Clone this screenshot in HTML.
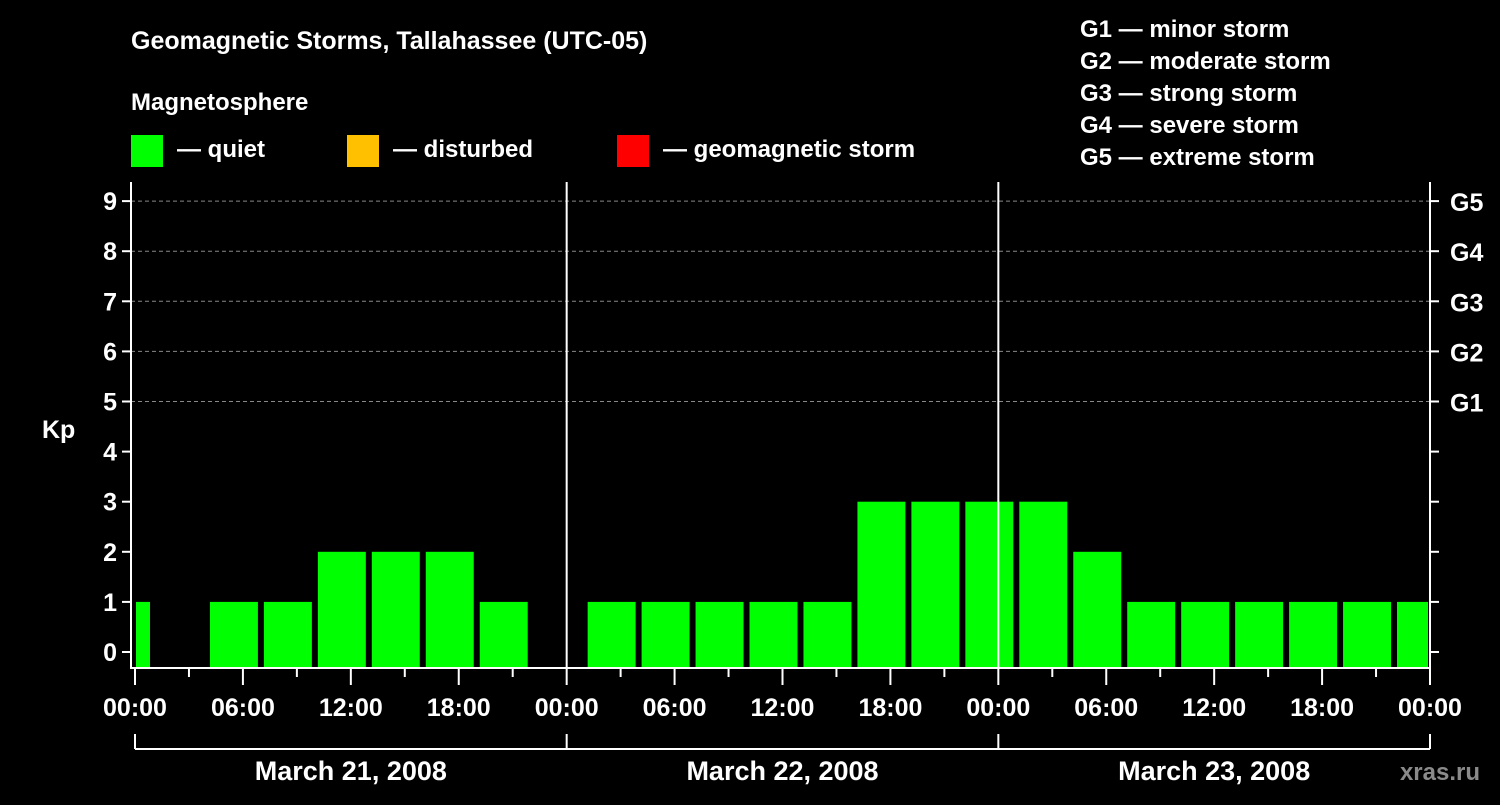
<!DOCTYPE html>
<html><head><meta charset="utf-8"><style>
body{margin:0;background:#000;width:1500px;height:800px;overflow:hidden;font-family:"Liberation Sans",sans-serif;font-weight:bold;color:#fff}
svg text{font-family:"Liberation Sans",sans-serif;font-weight:bold;fill:#fff}
</style></head><body>
<svg id="chart" width="1500" height="800" xmlns="http://www.w3.org/2000/svg">
<text x="131" y="49" font-size="25">Geomagnetic Storms, Tallahassee (UTC-05)</text>
<text x="131" y="110" font-size="24">Magnetosphere</text>
<rect x="131" y="135" width="32" height="32" fill="#00ff00"/>
<text x="177" y="157" font-size="24">— quiet</text>
<rect x="347" y="135" width="32" height="32" fill="#ffc000"/>
<text x="393" y="157" font-size="24">— disturbed</text>
<rect x="617" y="135" width="32" height="32" fill="#ff0000"/>
<text x="663" y="157" font-size="24">— geomagnetic storm</text>
<g font-size="24">
<text x="1080" y="37">G1 — minor storm</text>
<text x="1080" y="69">G2 — moderate storm</text>
<text x="1080" y="101">G3 — strong storm</text>
<text x="1080" y="133">G4 — severe storm</text>
<text x="1080" y="165">G5 — extreme storm</text>
</g>
<text x="42" y="438" font-size="25">Kp</text>
<text x="1480" y="780" font-size="24" fill="#999" style="fill:#8a8a8a" text-anchor="end">xras.ru</text>
<g id="plot"></g>
</svg>
<script>
const kpValues=[1,0,1,1,2,2,2,1,0,1,1,1,1,1,3,3,3,3,2,1,1,1,1,1,1];
const binStartHour=-2;
const yTicks=[0,1,2,3,4,5,6,7,8,9];
const gLabels=["G1","G2","G3","G4","G5"];
const gLevels=[5,6,7,8,9];
const xTickLabels=["00:00","06:00","12:00","18:00","00:00","06:00","12:00","18:00","00:00","06:00","12:00","18:00","00:00"];
const dayLabels=["March 21, 2008","March 22, 2008","March 23, 2008"];
const NS="http://www.w3.org/2000/svg";
const X0=135,X1=1430,HOURS=72,Y0=652,PER=50.1,TOP=182,BOT=668,LEFT=131;
const xs=h=>X0+(X1-X0)*h/HOURS;
const ys=v=>Y0-v*PER;
const g=document.getElementById('plot');
function mk(t,a){const e=document.createElementNS(NS,t);for(const k in a)e.setAttribute(k,a[k]);g.appendChild(e);return e;}
// grid
gLevels.forEach((v,i)=>{
const l=mk('line',{x1:LEFT,x2:X1,y1:ys(v),y2:ys(v),stroke:'#888','stroke-dasharray':'4,3','stroke-width':1});


const t=mk('text',{x:1450,y:ys(v)+10,'font-size':25});t.textContent=gLabels[i];


});
// bars
kpValues.forEach((v,i)=>{
if(v<=0)return;
let a=xs(binStartHour+i*3)+3,b=xs(binStartHour+i*3+3)-3;
a=Math.max(a,X0+1);b=Math.min(b,X1-2);
const r=mk('rect',{x:a,y:ys(v),width:b-a,height:BOT-ys(v),fill:'#00ff00'});


});
// axes
[[LEFT,TOP,LEFT,BOT+1],[X1,TOP,X1,BOT+1],[LEFT,BOT,X1,BOT],[xs(24),TOP,xs(24),BOT],[xs(48),TOP,xs(48),BOT]].forEach(p=>{
const l=mk('line',{x1:p[0],y1:p[1],x2:p[2],y2:p[3],stroke:'#fff','stroke-width':2});


});
yTicks.forEach(v=>{
mk('line',{x1:LEFT-9,x2:LEFT,y1:ys(v),y2:ys(v),stroke:'#fff','stroke-width':2});
mk('line',{x1:X1,x2:X1+9,y1:ys(v),y2:ys(v),stroke:'#fff','stroke-width':2});
const t=mk('text',{x:117,y:ys(v)+9,'font-size':25,'text-anchor':'end'});t.textContent=v;


});
for(let h=0;h<=72;h+=3){
const major=h%6===0;
mk('line',{x1:xs(h),x2:xs(h),y1:BOT,y2:major?BOT+17:BOT+9,stroke:'#fff','stroke-width':2});
}
xTickLabels.forEach((s,i)=>{
const t=mk('text',{x:xs(i*6),y:716,'font-size':25,'text-anchor':'middle'});t.textContent=s;


});
mk('line',{x1:xs(0),x2:xs(72),y1:749,y2:749,stroke:'#fff','stroke-width':2});
for(let d=0;d<=3;d++)mk('line',{x1:xs(d*24),x2:xs(d*24),y1:734,y2:749,stroke:'#fff','stroke-width':2});
dayLabels.forEach((s,i)=>{
const t=mk('text',{x:xs(i*24+12),y:780,'font-size':27,'text-anchor':'middle'});t.textContent=s;


});
</script>
</body></html>
